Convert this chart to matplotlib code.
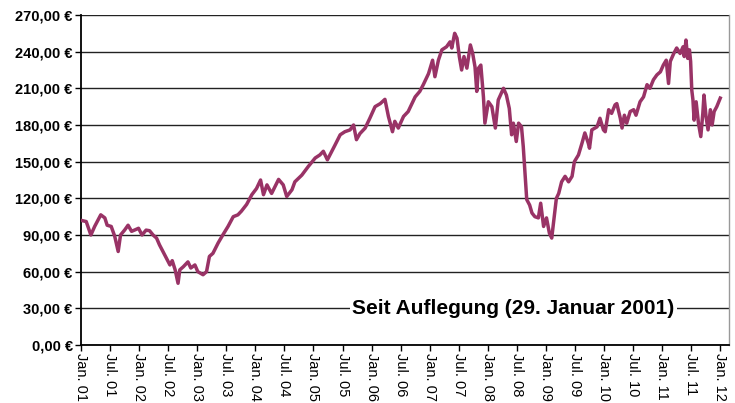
import matplotlib
matplotlib.use('Agg')
import matplotlib.pyplot as plt

plt.rcParams['font.family'] = ['Liberation Sans', 'DejaVu Sans']

# Kursverlauf (Jahr als Dezimalzahl, Wert in Euro)
jahr = [
    2001.00, 2001.09, 2001.17, 2001.235, 2001.34, 2001.41, 2001.45, 2001.52, 2001.58, 2001.64,
    2001.68, 2001.75, 2001.81, 2001.87, 2001.92, 2001.99, 2002.05, 2002.12, 2002.18, 2002.24,
    2002.30, 2002.35, 2002.41, 2002.47, 2002.53, 2002.57, 2002.62, 2002.67, 2002.70, 2002.76,
    2002.84, 2002.89, 2002.96, 2003.01, 2003.10, 2003.16, 2003.21, 2003.27, 2003.36, 2003.44,
    2003.53, 2003.62, 2003.70, 2003.76, 2003.85, 2003.94, 2004.02, 2004.09, 2004.14, 2004.20,
    2004.28, 2004.40, 2004.48, 2004.54, 2004.63, 2004.68, 2004.80, 2004.91, 2005.03, 2005.11,
    2005.17, 2005.24, 2005.30, 2005.37, 2005.46, 2005.54, 2005.63, 2005.69, 2005.74, 2005.80,
    2005.89, 2005.97, 2006.06, 2006.15, 2006.23, 2006.29, 2006.36, 2006.40, 2006.46, 2006.55,
    2006.63, 2006.72, 2006.75, 2006.83, 2006.89, 2006.98, 2007.05, 2007.09, 2007.15, 2007.21,
    2007.29, 2007.35, 2007.38, 2007.43, 2007.47, 2007.51, 2007.55, 2007.59, 2007.64, 2007.70,
    2007.74, 2007.78, 2007.81, 2007.84, 2007.88, 2007.925, 2007.95, 2008.01, 2008.07, 2008.13,
    2008.18, 2008.27, 2008.32, 2008.37, 2008.41, 2008.44, 2008.49, 2008.53, 2008.58, 2008.61,
    2008.64, 2008.67, 2008.72, 2008.76, 2008.81, 2008.87, 2008.91, 2008.96, 2009.01, 2009.06,
    2009.10, 2009.14, 2009.18, 2009.22, 2009.27, 2009.33, 2009.39, 2009.45, 2009.49, 2009.56,
    2009.62, 2009.67, 2009.73, 2009.75, 2009.79, 2009.88, 2009.93, 2009.99, 2010.02, 2010.08,
    2010.13, 2010.19, 2010.22, 2010.28, 2010.31, 2010.35, 2010.39, 2010.45, 2010.51, 2010.55,
    2010.62, 2010.68, 2010.74, 2010.79, 2010.85, 2010.91, 2010.97, 2011.02, 2011.07, 2011.11,
    2011.14, 2011.20, 2011.25, 2011.31, 2011.36, 2011.38, 2011.41, 2011.44, 2011.47, 2011.49,
    2011.51, 2011.53, 2011.55, 2011.585, 2011.625, 2011.665, 2011.70, 2011.72, 2011.755, 2011.79,
    2011.83, 2011.86, 2011.895, 2011.94, 2012.00,
]
kurs = [
    102, 101, 90, 97, 106.5, 104, 98, 97, 89, 76.5,
    90, 94, 98, 93, 94, 95.5, 90, 94, 93.5, 90,
    87.5, 82, 76.5, 71, 65.5, 69, 61.5, 50.5, 61.5, 64,
    68, 63, 65.5, 60, 57.5, 60, 72.5, 75, 83.5, 90,
    97, 105, 106.5, 109.5, 115, 123, 128, 135, 123, 131,
    124, 135.5, 131, 121.5, 127, 133.5, 139, 146, 153, 155.5,
    158.5, 151.5, 157, 163.5, 172, 174.5, 176, 180, 168, 173,
    177.5, 185.5, 195, 197.5, 201, 187, 174.5, 183, 177.5, 187,
    191, 200, 203, 207.5, 213, 222, 233, 219.5, 233, 241.5,
    244, 248, 243, 255, 251, 236, 225, 236, 226.5, 245.5,
    238.5, 227.5, 207.5, 226.5, 229, 203, 181.5, 199, 195, 177.5,
    200.5, 210, 204.5, 193.5, 172, 181.5, 166.5, 181.5, 178.5, 162.5,
    140.5, 119, 114.5, 108, 105, 104, 116, 97, 104, 91.5,
    87.5, 104, 120, 124, 133.5, 138, 133.5, 138, 150, 155.5,
    165, 173.5, 165, 161, 176, 178.5, 185.5, 176, 174.5, 192.5,
    189.5, 196.5, 197.5, 185.5, 177.5, 188, 181.5, 191, 192.5, 188,
    199, 203, 213, 210, 217, 221, 223.5, 229, 233, 214,
    232, 238.5, 243, 238.5, 244, 236, 249.5, 234.5, 241.5, 232,
    208.5, 200.5, 184, 199, 181.5, 170.5, 189.5, 204.5, 187, 176,
    192.5, 180, 191, 195, 202,
]

# Achsenbeschriftungen
x_ticks = [2001 + 0.5 * i for i in range(23)]
x_labels = []
for i in range(23):
    jj = 1 + i // 2
    x_labels.append(('Jan. ' if i % 2 == 0 else 'Jul. ') + f'{jj:02d}')
y_ticks = list(range(0, 271, 30))
y_labels = [f'{v},00 €' for v in y_ticks]

fig = plt.figure(figsize=(7.35, 4.03), dpi=100)
ax = fig.add_axes([0.1102, 0.1439, 0.8816, 0.8189])

ax.plot(jahr, kurs, color='#993366', linewidth=2.5, zorder=3)

ax.set_xlim(2001, 2012.15)
ax.set_ylim(0, 270)
ax.set_yticks(y_ticks)
ax.set_yticklabels(y_labels, fontsize=10.5, fontweight='bold')
ax.set_xticks(x_ticks)
ax.set_xticklabels(x_labels, fontsize=10.5, rotation=270, va='top', ha='center')
ax.tick_params(axis='both', direction='out', length=4, width=1, color='black')
ax.tick_params(axis='x', pad=2)
ax.tick_params(axis='y', pad=2)

ax.grid(axis='y', color='#222222', linewidth=1)
ax.set_axisbelow(True)
for s in ['left', 'bottom']:
    ax.spines[s].set_linewidth(1.3)
    ax.spines[s].set_color('black')
ax.spines['top'].set_visible(False)
ax.spines['right'].set_color('#999999')
ax.spines['right'].set_linewidth(1)

ax.text(2008.44, 30, 'Seit Auflegung (29. Januar 2001)', fontsize=15, fontweight='bold',
        ha='center', va='center', zorder=4,
        bbox=dict(facecolor='white', edgecolor='none', pad=2))

plt.savefig('out.png', dpi=100)
